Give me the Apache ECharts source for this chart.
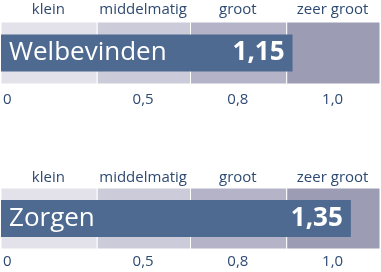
<!DOCTYPE html>
<html><head><meta charset="utf-8">
<script src="https://cdn.jsdelivr.net/npm/echarts@6/dist/echarts.min.js"></script>
<style>html,body{margin:0;padding:0;background:#fff}#c{width:381px;height:272px}</style>
</head><body><div id="c"></div>
<script>
const bandNames = ['klein', 'middelmatig', 'groot', 'zeer groot'];
const bandEdges = [0.15, 0.48, 0.80, 1.13, 1.45];
const tickLabels = ['0', '0,5', '0,8', '1,0'];
const measures = ['Welbevinden', 'Zorgen'];
const scores = [1.15, 1.35];
const bandColors = ['#e3e2eb', '#cccbd9', '#b4b3c8', '#9d9cb5'];

const font = 'Open Sans';
const textColor = '#2e4a72';
const barColor = '#4e6a90';
const grids = [{left: 1, right: 1, top: 22, height: 62}, {left: 1, right: 1, top: 188, height: 61}];
const topMargins = [5, 3];
const bottomMargins = [8, 5];

const option = {animation: false, grid: [], xAxis: [], yAxis: [], series: []};
grids.forEach((g, gi) => {
  option.grid.push(g);
  option.xAxis.push({type: 'value', gridIndex: gi, min: bandEdges[0], max: bandEdges[bandEdges.length - 1], show: false});
  option.xAxis.push({type: 'category', gridIndex: gi, position: 'top', data: bandNames,
    axisLine: {show: false}, axisTick: {show: false},
    axisLabel: {interval: 0, color: textColor, fontFamily: font, fontSize: 15, margin: topMargins[gi]}});
  option.xAxis.push({type: 'category', gridIndex: gi, position: 'bottom', data: tickLabels,
    axisLine: {show: false}, axisTick: {show: false},
    axisLabel: {interval: 0, color: textColor, fontFamily: font, fontSize: 15, margin: bottomMargins[gi],
      formatter: (v, i) => i === 0 ? '{first|' + v + '}' : v,
      rich: {first: {color: textColor, fontFamily: font, fontSize: 15, padding: [0, 82, 0, 0]}}}});
  option.yAxis.push({type: 'category', gridIndex: gi, data: [measures[gi]], z: 10,
    axisLine: {show: false}, axisTick: {show: false},
    axisLabel: {inside: true, margin: 8, color: '#fff', fontFamily: font, fontSize: 26}});
  option.series.push({
    type: 'bar', xAxisIndex: gi * 3, yAxisIndex: gi, data: [scores[gi]], barWidth: 37,
    itemStyle: {color: barColor},
    label: {show: true, position: 'insideRight', distance: 8, color: '#fff', fontFamily: font,
      fontSize: 26, fontWeight: 'bold', formatter: p => p.value.toFixed(2).replace('.', ',')},
    markArea: {silent: true, data: bandNames.map((n, i) => [
      {xAxis: bandEdges[i], itemStyle: {color: bandColors[i], borderColor: '#fff', borderWidth: 1}},
      {xAxis: bandEdges[i + 1]}])}
  });
});
const chart = echarts.init(document.getElementById('c'), null, {renderer: 'canvas'});
chart.setOption(option);
</script></body></html>
